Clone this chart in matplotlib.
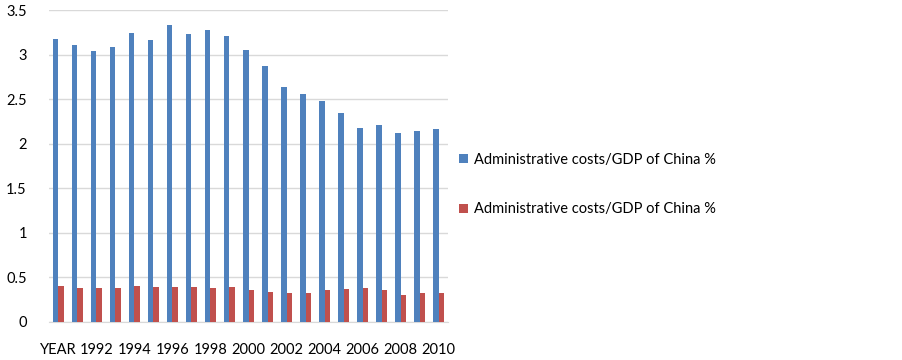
import numpy as np
import matplotlib
matplotlib.use('Agg')
import matplotlib.pyplot as plt

plt.rcParams['font.family'] = ['Lato', 'DejaVu Sans']

# Kategorien (x-Achse)
categories = ['YEAR'] + [str(y) for y in range(1991, 2011)]

# Werte
blue_values = [3.17, 3.11, 3.04, 3.08, 3.24, 3.16, 3.33, 3.23, 3.28, 3.21,
               3.05, 2.87, 2.63, 2.56, 2.48, 2.34, 2.17, 2.21, 2.12, 2.14, 2.16]
red_values = [0.40, 0.38, 0.38, 0.38, 0.40, 0.39, 0.39, 0.39, 0.38, 0.39,
              0.36, 0.33, 0.32, 0.32, 0.36, 0.37, 0.38, 0.36, 0.30, 0.32, 0.32]
series_label = 'Administrative costs/GDP of China %'

fig = plt.figure(figsize=(9.02, 3.6), dpi=100)
ax = fig.add_axes([0.0543, 0.1064, 0.4424, 0.8658])

x = np.arange(len(categories))
w = 0.28
ax.bar(x - w / 2, blue_values, width=w, color='#4F81BD', label=series_label, zorder=3)
ax.bar(x + w / 2, red_values, width=w, color='#C0504D', label=series_label, zorder=3)

ax.set_xlim(-0.5, len(categories) - 0.5)
ax.set_ylim(0, 3.5)
ax.set_yticks(np.arange(0, 3.51, 0.5))
ax.set_yticklabels(['0', '0.5', '1', '1.5', '2', '2.5', '3', '3.5'])
ax.set_xticks(x[::2])
ax.set_xticklabels(categories[::2])
ax.tick_params(axis='both', length=0, labelsize=10.5, colors='#000000')
ax.tick_params(axis='x', pad=15)
ax.tick_params(axis='y', pad=16)

ax.grid(axis='y', color='#D9D9D9', linewidth=1, zorder=0)
for s in ['top', 'right', 'left']:
    ax.spines[s].set_visible(False)
ax.spines['bottom'].set_color('#D9D9D9')

ax.legend(loc='center left', bbox_to_anchor=(1.013, 0.44), frameon=False,
          fontsize=10.5, handlelength=0.6, handleheight=0.6, handletextpad=0.4,
          labelspacing=2.45, borderaxespad=0)

fig.savefig('out.png', dpi=100)
